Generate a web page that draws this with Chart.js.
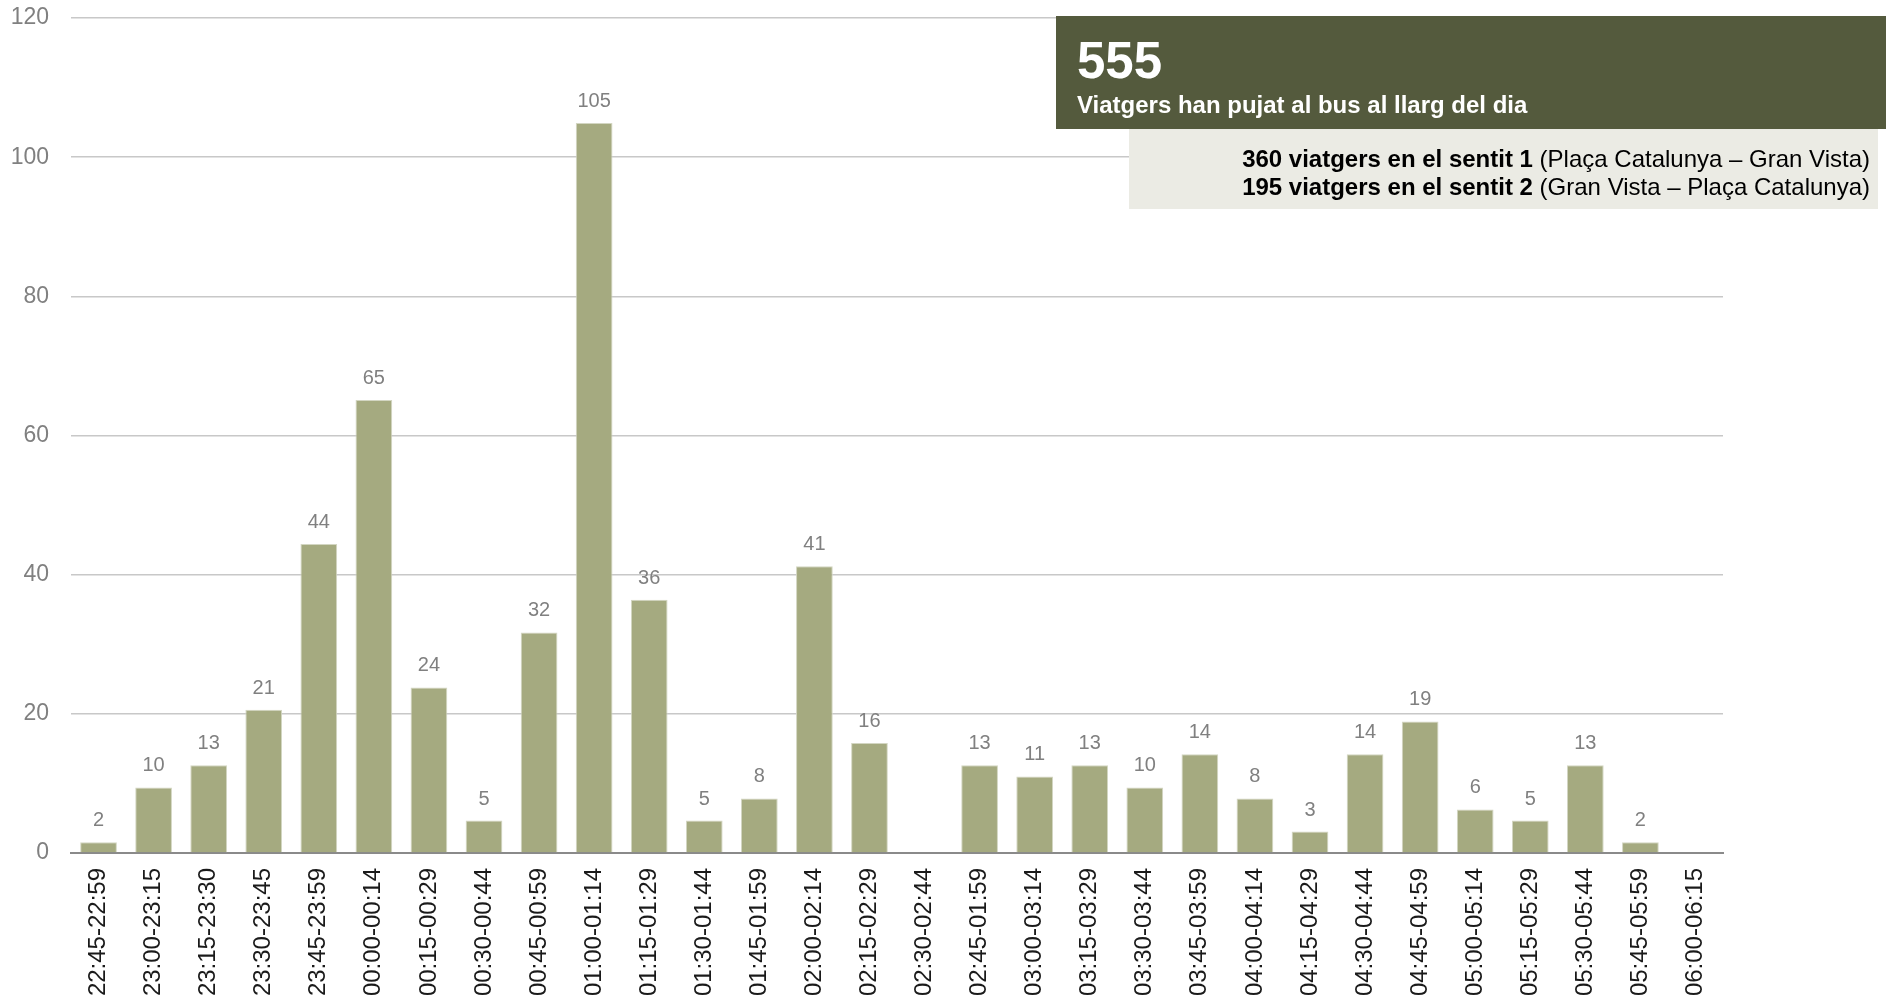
<!DOCTYPE html>
<html>
<head>
<meta charset="utf-8">
<title>Viatgers per franja horària</title>
<script src="https://cdn.jsdelivr.net/npm/chart.js@4"></script>
<style>
  body { margin: 0; overflow: hidden; background: #fff; }
  #wrap { position: relative; width: 1886px; height: 1040px; }
</style>
</head>
<body>
<div id="wrap"><canvas id="myChart"></canvas></div>
<script>
// franges horàries (eix x)
const franges = ['22:45-22:59', '23:00-23:15', '23:15-23:30', '23:30-23:45', '23:45-23:59',
  '00:00-00:14', '00:15-00:29', '00:30-00:44', '00:45-00:59', '01:00-01:14',
  '01:15-01:29', '01:30-01:44', '01:45-01:59', '02:00-02:14', '02:15-02:29',
  '02:30-02:44', '02:45-01:59', '03:00-03:14', '03:15-03:29', '03:30-03:44',
  '03:45-03:59', '04:00-04:14', '04:15-04:29', '04:30-04:44', '04:45-04:59',
  '05:00-05:14', '05:15-05:29', '05:30-05:44', '05:45-05:59', '06:00-06:15']

// alçada de cada barra, llegida del gràfic
const alcades = [1.55, 9.43, 12.6, 20.6, 44.4, 65.1, 23.8, 4.67, 31.7, 104.9,
  36.4, 4.67, 7.84, 41.2, 15.8, 0, 12.6, 11.0, 12.6, 9.43,
  14.2, 7.84, 3.08, 14.2, 18.9, 6.26, 4.67, 12.6, 1.55, 0]

// xifra que surt damunt de cada barra
const etiquetes = [2, 10, 13, 21, 44, 65, 24, 5, 32, 105,
  36, 5, 8, 41, 16, 0, 13, 11, 13, 10,
  14, 8, 3, 14, 19, 6, 5, 13, 2, 0]

const yTicks = [0, 20, 40, 60, 80, 100, 120]

const total = '555'
const subtitol = 'Viatgers han pujat al bus al llarg del dia'
const sentits = [
  ['360 viatgers en el sentit 1', ' (Plaça Catalunya – Gran Vista)'],
  ['195 viatgers en el sentit 2', ' (Gran Vista – Plaça Catalunya)']
]

const FONT = '"Liberation Sans", Arial, sans-serif'

// numeros damunt les barres
const valorsPlugin = {
  id: 'valors',
  afterDatasetsDraw(chart) {
    const ctx = chart.ctx
    const meta = chart.getDatasetMeta(0)
    ctx.save()
    ctx.font = '20px ' + FONT
    ctx.fillStyle = '#808080'
    ctx.textAlign = 'center'
    ctx.textBaseline = 'alphabetic'
    meta.data.forEach((bar, i) => {
      if (!etiquetes[i]) return
      ctx.fillText(String(etiquetes[i]), bar.x, bar.y - 16)
    })
    ctx.restore()
  }
}

// caixes del resum (a dalt a la dreta)
const resumPlugin = {
  id: 'resum',
  afterDraw(chart) {
    const ctx = chart.ctx
    ctx.save()
    ctx.fillStyle = '#545a3d'
    ctx.fillRect(1056, 16, 830, 113)
    ctx.fillStyle = '#ebebe4'
    ctx.fillRect(1129, 129, 749, 80)

    ctx.fillStyle = '#ffffff'
    ctx.textAlign = 'left'
    ctx.textBaseline = 'alphabetic'
    ctx.font = 'bold 51px ' + FONT
    ctx.fillText(total, 1077, 78)
    ctx.font = 'bold 24px ' + FONT
    ctx.fillText(subtitol, 1077, 113)

    ctx.fillStyle = '#000000'
    var ys = [167, 195]
    sentits.forEach((linia, i) => {
      ctx.font = '24px ' + FONT
      var w2 = ctx.measureText(linia[1]).width
      ctx.fillText(linia[1], 1870 - w2, ys[i])
      ctx.font = 'bold 24px ' + FONT
      var w1 = ctx.measureText(linia[0]).width
      ctx.fillText(linia[0], 1870 - w2 - w1, ys[i])
    })
    ctx.restore()
  }
}

const canvas1 = document.getElementById('myChart')

var myChart = new Chart(canvas1, {
  type: 'bar',
  data: {
    labels: franges,
    datasets: [{
      label: 'Viatgers',
      data: alcades,
      backgroundColor: '#a5aa80',
      borderColor: '#d3d6c2',
      borderWidth: 1,
      barPercentage: 0.667,
      categoryPercentage: 1
    }]
  },
  options: {
    responsive: true,
    maintainAspectRatio: false,
    animation: false,
    layout: {
      padding: { top: 18, right: 163, bottom: 0, left: 0 }
    },
    plugins: {
      legend: { display: false },
      tooltip: { enabled: false }
    },
    scales: {
      x: {
        grid: { display: false, drawTicks: false },
        border: { display: true, color: '#8a8a8a', width: 2 },
        ticks: {
          autoSkip: false,
          minRotation: 90,
          maxRotation: 90,
          padding: 15,
          color: '#1a1a1a',
          font: { family: FONT, size: 24 }
        },
        afterFit(scale) {
          scale.height = 187
          scale.paddingLeft = 0
          scale.paddingRight = 0
        }
      },
      y: {
        min: 0,
        max: 120,
        afterBuildTicks(scale) { scale.ticks = yTicks.map(v => ({ value: v })) },
        grid: { color: '#c8c8c8', lineWidth: 1.5, drawTicks: false },
        border: { display: false },
        ticks: {
          padding: 22,
          color: '#808080',
          font: { family: FONT, size: 23 }
        },
        afterFit(scale) {
          scale.width = 71
          scale.paddingTop = 0
          scale.paddingBottom = 0
        }
      }
    }
  },
  plugins: [valorsPlugin, resumPlugin]
})
</script>
</body>
</html>
